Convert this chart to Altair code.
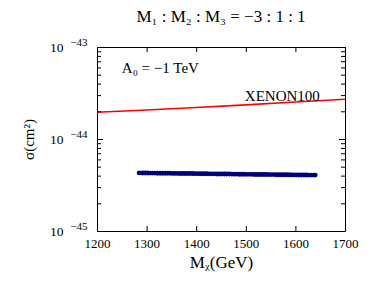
import altair as alt
import pandas as pd

# ---- data ----
mx = [1285, 1292, 1297, 1302, 1307, 1312, 1317, 1322, 1327, 1332,
      1337, 1342, 1347, 1352, 1357, 1362, 1367, 1372, 1377, 1382,
      1387, 1392, 1397, 1402, 1407, 1412, 1417, 1422, 1427, 1432,
      1437, 1442, 1447, 1452, 1457, 1462, 1467, 1472, 1477, 1482,
      1487, 1492, 1497, 1502, 1507, 1512, 1517, 1522, 1527, 1532,
      1537, 1542, 1547, 1552, 1557, 1562, 1567, 1572, 1577, 1582,
      1587, 1592, 1597, 1602, 1607, 1612, 1617, 1622, 1627, 1632,
      1637, 1640]
sigma_e45 = [4.28, 4.27, 4.27, 4.27, 4.26, 4.26, 4.26, 4.25, 4.25, 4.25,
             4.24, 4.24, 4.24, 4.23, 4.23, 4.23, 4.22, 4.22, 4.22, 4.21,
             4.21, 4.21, 4.20, 4.20, 4.20, 4.19, 4.19, 4.19, 4.18, 4.18,
             4.18, 4.17, 4.17, 4.17, 4.16, 4.16, 4.16, 4.15, 4.15, 4.15,
             4.14, 4.14, 4.14, 4.13, 4.13, 4.13, 4.12, 4.12, 4.12, 4.11,
             4.11, 4.11, 4.10, 4.10, 4.10, 4.09, 4.09, 4.09, 4.08, 4.08,
             4.08, 4.07, 4.07, 4.07, 4.06, 4.06, 4.06, 4.06, 4.05, 4.05,
             4.05, 4.05]

xenon_m = [1200, 1300, 1400, 1500, 1600, 1700]
xenon_sigma = [1.95e-44, 2.07e-44, 2.20e-44, 2.35e-44, 2.52e-44, 2.70e-44]

label_text = ["A\u2080 = \u22121 TeV", "XENON100"]
label_x = [1250, 1498]
label_y = [5.9e-44, 2.93e-44]

x_ticks = [1200, 1300, 1400, 1500, 1600, 1700]
y_decades = [1e-45, 1e-44, 1e-43]
y_base_label = "10"
y_exp_labels = ["\u221245", "\u221244", "\u221243"]
y_minor_mult = [2, 3, 4, 5, 6, 7, 8, 9]

title_text = "M\u2081 : M\u2082 : M\u2083 = \u22123 : 1 : 1"
x_title = "M\u1d6a(GeV)"
y_title = "\u03c3(cm\u00b2)"

# ---- layout / style ----
W, H = 248, 184
FONT = "Liberation Serif"
MAJOR_LEN, MINOR_LEN, XTICK_LEN = 6, 4, 5

exp_expr = ""
for v, l in zip(y_decades, y_exp_labels):
    exp_expr += f"abs(datum.value / {v} - 1) < 0.01 ? '{l}' : "
exp_expr += "''"

x_lo, x_hi = x_ticks[0], x_ticks[-1]
y_lo, y_hi = y_decades[0], y_decades[-1]
n_dec = len(y_decades) - 1

# tick segments expressed in data units (pixel length -> data span)
px_to_x = (x_hi - x_lo) / W
px_to_logy = n_dec / H

ytick_rows = []
for d in y_decades:
    L = MAJOR_LEN * px_to_x
    ytick_rows.append({"s": d, "x0": x_lo, "x1": x_lo + L})
    ytick_rows.append({"s": d, "x0": x_hi - L, "x1": x_hi})
for d in y_decades[:-1]:
    for k in y_minor_mult:
        L = MINOR_LEN * px_to_x
        ytick_rows.append({"s": k * d, "x0": x_lo, "x1": x_lo + L})
        ytick_rows.append({"s": k * d, "x0": x_hi - L, "x1": x_hi})
ytick_df = pd.DataFrame(ytick_rows)

f = 10 ** (XTICK_LEN * px_to_logy)
xtick_rows = []
for t in x_ticks:
    xtick_rows.append({"m": t, "y0": y_lo, "y1": y_lo * f})
    xtick_rows.append({"m": t, "y0": y_hi / f, "y1": y_hi})
xtick_df = pd.DataFrame(xtick_rows)

pts_df = pd.DataFrame({"m": mx, "s": [v * 1e-45 for v in sigma_e45]})
xen_df = pd.DataFrame({"m": xenon_m, "s": xenon_sigma})
lab_df = pd.DataFrame({"m": label_x, "s": label_y, "t": label_text})

xs = alt.Scale(domain=[x_lo, x_hi], nice=False, zero=False)
ys = alt.Scale(type="log", domain=[y_lo, y_hi], nice=False)

yticks = alt.Chart(ytick_df).mark_rule(color="black", strokeWidth=1, yOffset=0.5).encode(
    x=alt.X("x0:Q", scale=xs),
    x2="x1:Q",
    y=alt.Y("s:Q", scale=ys, axis=None),
)

xticks = alt.Chart(xtick_df).mark_rule(color="black", strokeWidth=1, xOffset=0.5).encode(
    x=alt.X("m:Q", scale=xs),
    y=alt.Y("y0:Q", scale=ys, axis=None),
    y2="y1:Q",
)

line = alt.Chart(xen_df).mark_line(color="#ff0000", strokeWidth=1.6, clip=True).encode(
    x=alt.X("m:Q", scale=xs,
            axis=alt.Axis(orient="bottom", values=x_ticks, format="d", ticks=False,
                          domain=False, grid=False, title=x_title, labelFlush=False,
                          labelFont=FONT, labelFontSize=13, labelColor="black",
                          labelPadding=6, titleFont=FONT, titleFontSize=17,
                          titleFontWeight="normal", titleColor="black", titlePadding=4)),
    y=alt.Y("s:Q", scale=ys,
            axis=alt.Axis(orient="left", values=y_decades, labelExpr=f"'{y_base_label}'",
                          ticks=False, domain=False, grid=False, title=y_title,
                          labelFont=FONT, labelFontSize=13.5, labelColor="black",
                          labelPadding=34, labelFlush=False,
                          titleFont=FONT, titleFontSize=15,
                          titleFontWeight="normal", titleColor="black", titlePadding=13)),
)

points = alt.Chart(pts_df).mark_circle(color="#00007f", size=24, opacity=1).encode(
    x=alt.X("m:Q", scale=xs),
    y=alt.Y("s:Q", scale=ys,
            axis=alt.Axis(orient="right", offset=-(W + 10), values=y_decades,
                          labelExpr=exp_expr, labelAlign="right", labelPadding=0,
                          labelBaseline="bottom", ticks=False, domain=False, grid=False,
                          title=None, labelFlush=False, labelFont=FONT,
                          labelFontSize=11, labelColor="black")),
)

texts = alt.Chart(lab_df).mark_text(align="left", baseline="middle", font=FONT,
                                    fontSize=15, color="black").encode(
    x=alt.X("m:Q", scale=xs),
    y=alt.Y("s:Q", scale=ys, axis=None),
    text="t:N",
)

chart = alt.layer(line, points, texts, yticks, xticks).resolve_axis(
    y="independent"
).properties(
    width=W, height=H,
    title=alt.TitleParams(title_text, font=FONT, fontSize=17, fontWeight="normal",
                          color="black", offset=10, anchor="middle", frame="group"),
    autosize=alt.AutoSizeParams(type="none"),
    padding={"left": 89, "top": 39, "right": 21, "bottom": 43},
    background="white",
).configure_view(stroke="black", strokeWidth=1)

chart.save("out.html", embed_options={"renderer": "svg", "actions": False})
